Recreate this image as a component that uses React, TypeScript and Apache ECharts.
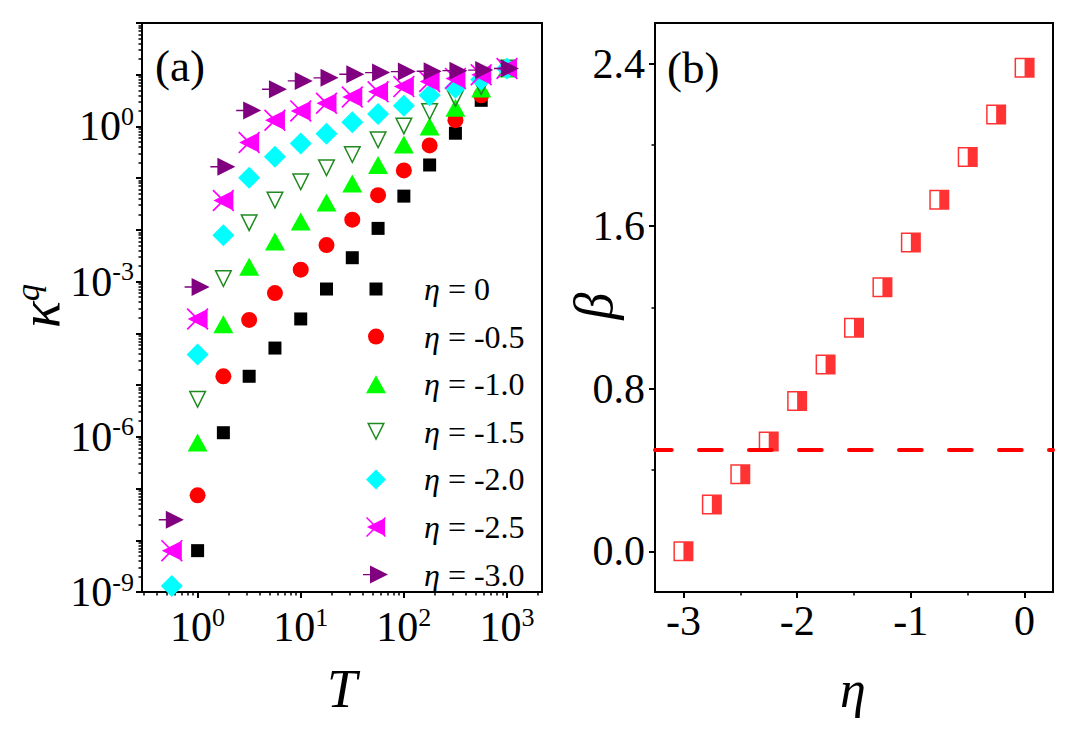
import React, { useEffect, useRef } from 'react';
import * as echarts from 'echarts';

const FONT = 'Liberation Serif';

// ---------- Panel (a) data ----------
const T_VALUES = [0.5623, 1, 1.778, 3.162, 5.623, 10, 17.78, 31.62, 56.23, 100, 177.8, 316.2, 562.3, 1000];

const KAPPA_ETA_0 = [null, 6.3e-9, 1.2e-6, 1.48e-5, 5.2e-5, 1.9e-4, 7.2e-4, 2.9e-3, 0.0107, 0.045, 0.18, 0.74, 3.2, 13.2];
const KAPPA_ETA_M05 = [null, 7.4e-8, 1.48e-5, 1.82e-4, 6.0e-4, 1.7e-3, 5.1e-3, 0.0158, 0.047, 0.141, 0.43, 1.32, 4.0, 13.2];
const KAPPA_ETA_M10 = [null, 7.8e-7, 1.5e-4, 1.95e-3, 6.0e-3, 0.0145, 0.034, 0.079, 0.18, 0.45, 1.0, 2.3, 5.4, 13.2];
const KAPPA_ETA_M15 = [null, 5.2e-6, 1.12e-3, 0.0135, 0.037, 0.083, 0.155, 0.28, 0.54, 1.0, 1.9, 3.4, 5.75, 13.2];
const KAPPA_ETA_M20 = [1.3e-9, 3.9e-5, 7.9e-3, 0.102, 0.26, 0.47, 0.72, 1.2, 1.74, 2.5, 4.0, 5.6, 8.1, 13.2];
const KAPPA_ETA_M25 = [6.3e-9, 1.9e-4, 0.037, 0.49, 1.32, 2.0, 2.8, 3.7, 4.7, 5.9, 7.4, 8.5, 10.0, 13.2];
const KAPPA_ETA_M30 = [2.5e-8, 7.9e-4, 0.166, 2.04, 5.25, 7.59, 8.71, 10.2, 11.0, 11.5, 11.7, 12.0, 12.3, 13.2];

const SERIES_NAMES = ['η = 0', 'η = -0.5', 'η = -1.0', 'η = -1.5', 'η = -2.0', 'η = -2.5', 'η = -3.0'];
const SERIES_VALUES = [KAPPA_ETA_0, KAPPA_ETA_M05, KAPPA_ETA_M10, KAPPA_ETA_M15, KAPPA_ETA_M20, KAPPA_ETA_M25, KAPPA_ETA_M30];
const SERIES_COLORS = ['#000000', '#ff0000', '#00ff00', '#1f8a1f', '#00ffff', '#ff00ff', '#800080'];

// tick labels (a)
const T_TICK_LABELS = [1, 10, 100, 1000];
const KAPPA_TICK_LABELS = [1e-9, 1e-6, 1e-3, 1];

// ---------- Panel (b) data ----------
const ETA_VALUES = [-3, -2.75, -2.5, -2.25, -2, -1.75, -1.5, -1.25, -1, -0.75, -0.5, -0.25, 0];
const BETA_VALUES = [0.0, 0.23, 0.38, 0.54, 0.74, 0.92, 1.1, 1.3, 1.52, 1.73, 1.94, 2.15, 2.38];
const BETA_THRESHOLD = 0.5;

const ETA_TICK_LABELS = [-3, -2, -1, 0];
const ETA_MINOR_TICKS = [-2.5, -1.5, -0.5];
const BETA_TICK_LABELS = [0, 0.8, 1.6, 2.4];
const BETA_MINOR_TICKS = [0.4, 1.2, 2.0];

// log-axis tick positions (decades and 2..9 sub-ticks)
const T_DECADES = [1, 10, 100, 1000];
const T_MINOR: number[] = [];
[0.1, 1, 10, 100, 1000].forEach((d) => {
  for (let m = 2; m <= 9; m++) T_MINOR.push(+(d * m).toPrecision(3));
});
const K_DECADES: number[] = [];
const K_MINOR: number[] = [];
for (let e = -9; e <= 2; e++) {
  K_DECADES.push(+Number('1e' + e).toPrecision(3));
  if (e < 2) for (let m = 2; m <= 9; m++) K_MINOR.push(+(m * Number('1e' + e)).toPrecision(3));
}

// marker shapes
const SYMBOLS = [
  'path://M0,0M20,20M3.5,3.5L16.5,3.5L16.5,16.5L3.5,16.5Z',
  'path://M0,0M20,20M2,10A8,8,0,1,1,18,10A8,8,0,1,1,2,10Z',
  'path://M0,0M20,20M0,19L10,1L20,19Z',
  'path://M0,0M20,20M1,1L19,1L10,19ZM3.43,2.5L10,15.65L16.57,2.5Z',
  'path://M0,0M22,22M11,0L22,11L11,22L0,11Z',
  'path://M0,0M22,22M1,11L21,1L21,21ZM0,1.2L1.2,0L22,20.8L20.8,22ZM0,20.8L20.8,0L22,1.2L1.2,22Z',
  'path://M0,0M26,20M7,1L25,10L7,19ZM0,9.3L7,9.3L7,10.7L0,10.7Z',
];
const SYMBOL_SIZES: any[] = [20, 20, 20, 20, 22, 22, [26, 20]];
const HALF_SQUARE = 'path://M0,0L20,0L20,20L0,20ZM1.5,1.5L1.5,18.5L10,18.5L10,1.5Z';

const majorLine = { show: true, onZero: false, lineStyle: { color: '#000', width: 2 } };
const noLine = { show: false, onZero: false };
const majorTick = (vals: number[]) => ({ show: true, customValues: vals, length: 6, inside: false, lineStyle: { color: '#000', width: 2 } });
const minorTick = (vals: number[]) => ({ show: true, customValues: vals, length: 3.5, inside: false, lineStyle: { color: '#000', width: 1.5 } });
const logRich = {
  b: { fontSize: 42, fontFamily: FONT, color: '#000', lineHeight: 46 },
  s: { fontSize: 26, fontFamily: FONT, color: '#000', lineHeight: 26, padding: [0, 0, 20, 0] },
};
const logFormatter = (v: number) => `{b|10}{s|${Math.round(Math.log10(v))}}`;
const plainLabel = { fontSize: 42, fontFamily: FONT, color: '#000' };

export default function App() {
  const ref = useRef<HTMLDivElement>(null);
  useEffect(() => {
    if (!ref.current) return;
    const chart = echarts.init(ref.current, undefined, { renderer: 'svg' });

    const seriesA = SERIES_NAMES.map((name, i) => ({
      name,
      type: 'scatter',
      xAxisIndex: 0,
      yAxisIndex: 0,
      symbol: SYMBOLS[i],
      symbolSize: SYMBOL_SIZES[i],
      itemStyle: { color: SERIES_COLORS[i], opacity: 1 },
      clip: false,
      data: T_VALUES.map((t, k) => [t, SERIES_VALUES[i][k]]).filter((p) => p[1] !== null),
      z: 3 + i,
    }));

    const option: any = {
      animation: false,
      backgroundColor: '#fff',
      textStyle: { fontFamily: FONT },
      grid: [
        { left: 142, top: 23, width: 400, height: 569, show: true, borderColor: '#000', borderWidth: 2, backgroundColor: 'transparent', outerBoundsMode: 'none', containLabel: false },
        { left: 655, top: 23, width: 398, height: 569, show: true, borderColor: '#000', borderWidth: 2, backgroundColor: 'transparent', outerBoundsMode: 'none', containLabel: false },
      ],
      xAxis: [
        {
          gridIndex: 0, type: 'log', logBase: 10, min: 0.289, max: 2185, position: 'bottom',
          axisLine: majorLine, axisTick: majorTick(T_DECADES), splitLine: { show: false },
          axisLabel: { show: true, customValues: T_TICK_LABELS, formatter: logFormatter, rich: logRich, margin: 12 },
        },
        {
          gridIndex: 0, type: 'log', logBase: 10, min: 0.289, max: 2185, position: 'bottom', offset: 0,
          axisLine: noLine, axisTick: minorTick(T_MINOR), splitLine: { show: false }, axisLabel: { show: false },
        },
        {
          gridIndex: 1, type: 'value', min: -3.25, max: 0.25, position: 'bottom',
          axisLine: majorLine, axisTick: majorTick(ETA_TICK_LABELS), splitLine: { show: false },
          axisLabel: { show: true, customValues: ETA_TICK_LABELS, formatter: (v: number) => String(v), margin: 8, ...plainLabel },
        },
        {
          gridIndex: 1, type: 'value', min: -3.25, max: 0.25, position: 'bottom', offset: 0,
          axisLine: noLine, axisTick: minorTick(ETA_MINOR_TICKS), splitLine: { show: false }, axisLabel: { show: false },
        },
      ],
      yAxis: [
        {
          gridIndex: 0, type: 'log', logBase: 10, min: 1e-9, max: 100, position: 'left',
          axisLine: majorLine, axisTick: majorTick(K_DECADES), splitLine: { show: false },
          axisLabel: { show: true, customValues: KAPPA_TICK_LABELS, formatter: logFormatter, rich: logRich, margin: 8 },
        },
        {
          gridIndex: 0, type: 'log', logBase: 10, min: 1e-9, max: 100, position: 'left', offset: 0,
          axisLine: noLine, axisTick: minorTick(K_MINOR), splitLine: { show: false }, axisLabel: { show: false },
        },
        {
          gridIndex: 1, type: 'value', min: -0.2, max: 2.6, position: 'left',
          axisLine: majorLine, axisTick: majorTick(BETA_TICK_LABELS), splitLine: { show: false },
          axisLabel: { show: true, customValues: BETA_TICK_LABELS, formatter: (v: number) => v.toFixed(1), margin: 10, ...plainLabel },
        },
        {
          gridIndex: 1, type: 'value', min: -0.2, max: 2.6, position: 'left', offset: 0,
          axisLine: noLine, axisTick: minorTick(BETA_MINOR_TICKS), splitLine: { show: false }, axisLabel: { show: false },
        },
      ],
      legend: {
        data: SERIES_NAMES,
        orient: 'vertical',
        left: 358,
        top: 268,
        itemWidth: 26,
        itemHeight: 20,
        itemGap: 15.6,
        selectedMode: false,
        formatter: (name: string) => `{sp| }{i|η}{n|${name.slice(1)}}`,
        textStyle: {
          fontFamily: FONT, fontSize: 32, color: '#000',
          rich: {
            sp: { width: 30, fontSize: 32, lineHeight: 34 },
            i: { fontFamily: FONT, fontSize: 32, fontStyle: 'italic', color: '#000', lineHeight: 34 },
            n: { fontFamily: FONT, fontSize: 32, color: '#000', lineHeight: 34 },
          },
        },
      },
      graphic: [
        { type: 'text', x: 155, y: 66, style: { text: '(a)', fontSize: 45, fontFamily: FONT, fill: '#000', align: 'left', verticalAlign: 'middle' } },
        { type: 'text', x: 667, y: 68, style: { text: '(b)', fontSize: 45, fontFamily: FONT, fill: '#000', align: 'left', verticalAlign: 'middle' } },
        {
          type: 'text', x: 40, y: 306, rotation: Math.PI / 2,
          style: {
            text: '{k|κ}{q|q}', align: 'center', verticalAlign: 'middle', fill: '#000',
            rich: {
              k: { fontSize: 56, fontFamily: FONT, fontStyle: 'italic', fill: '#000', lineHeight: 56 },
              q: { fontSize: 34, fontFamily: FONT, fontStyle: 'italic', fill: '#000', lineHeight: 34, padding: [0, 0, 26, 0] },
            },
          },
        },
        { type: 'text', x: 594, y: 306, rotation: Math.PI / 2, style: { text: 'β', fontSize: 54, fontFamily: FONT, fontStyle: 'italic', fill: '#000', align: 'center', verticalAlign: 'middle' } },
        { type: 'text', x: 342, y: 689, style: { text: 'T', fontSize: 54, fontFamily: FONT, fontStyle: 'italic', fill: '#000', align: 'center', verticalAlign: 'middle' } },
        { type: 'text', x: 853, y: 689, style: { text: 'η', fontSize: 52, fontFamily: FONT, fontStyle: 'italic', fill: '#000', align: 'center', verticalAlign: 'middle' } },
      ],
      series: [
        ...seriesA,
        {
          name: 'beta',
          type: 'scatter',
          xAxisIndex: 2,
          yAxisIndex: 2,
          symbol: HALF_SQUARE,
          symbolSize: 20,
          itemStyle: { color: '#ff0000' },
          data: ETA_VALUES.map((e, i) => [e, BETA_VALUES[i]]),
          markLine: {
            silent: true,
            symbol: 'none',
            label: { show: false },
            lineStyle: { color: '#ff0000', width: 4, type: [22.7, 27.3], dashOffset: 6.3, cap: 'round' },
            data: [{ yAxis: BETA_THRESHOLD }],
          },
        },
      ],
    };
    chart.setOption(option);
    return () => chart.dispose();
  }, []);

  return (
    <div
      ref={ref}
      style={{ position: 'fixed', left: 0, top: 0, width: 1080, height: 734, background: '#fff' }}
    />
  );
}
